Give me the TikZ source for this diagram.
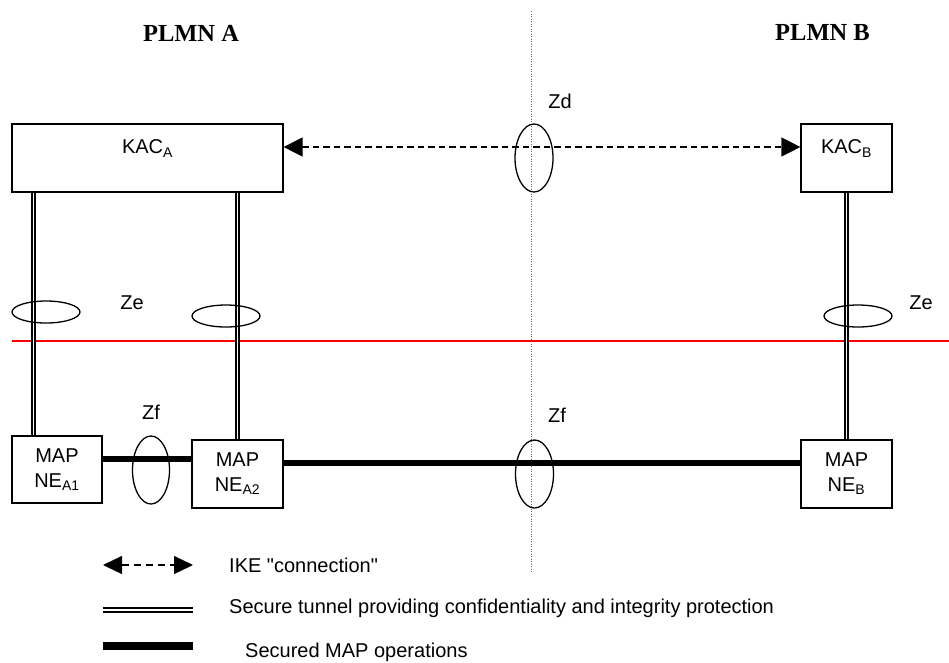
\documentclass[tikz,border=0pt]{standalone}
\usepackage{fontspec}
\setmainfont{Liberation Sans}
\newfontfamily\plmnfont{Liberation Serif}
\usetikzlibrary{arrows.meta}

\begin{document}
\begin{tikzpicture}[x=1pt,y=-1pt,
		font=\fontsize{20}{25}\selectfont,
		box/.style={draw,line width=1.2pt,align=center,inner sep=0pt},
		plmn/.style={font=\plmnfont\fontsize{24.5}{28}\selectfont\bfseries},
		ike/.style={line width=1.2pt,dash pattern=on 6.5pt off 4pt,{Triangle[length=19pt,width=19pt]}-{Triangle[length=19pt,width=19pt]}},
		tunnel/.style={double,line width=1.8pt,double distance=1.7pt},
		mapop/.style={line width=5.5pt},
		ring/.style={line width=1.3pt},
		txt/.style={anchor=west,inner sep=0pt}]
	\useasboundingbox (0,0) rectangle (949,662);

	\node[plmn] (plmna) at (191,33) {PLMN A};
	\node[plmn] (plmnb) at (822.5,33) {PLMN B};

	\draw[gray!80!black,line width=0.9pt,dash pattern=on 0.9pt off 1.6pt] (531,11) -- (531,573);
	\draw[red,line width=1.4pt] (12,341) -- (949,341);

	\node[box,minimum width=271pt,minimum height=68pt] (kaca) at (147.5,158) {KAC\textsubscript{A}\\[-3pt] \mbox{}};
	\node[box,minimum width=91pt,minimum height=68pt] (kacb) at (846.5,158) {KAC\textsubscript{B}\\[-3pt] \mbox{}};
	\node[box,minimum width=90pt,minimum height=67pt] (nea1) at (57,469.5) {MAP\\NE\textsubscript{A1}};
	\node[box,minimum width=91pt,minimum height=68pt] (nea2) at (237.5,474) {MAP\\NE\textsubscript{A2}};
	\node[box,minimum width=91pt,minimum height=68pt] (neb) at (846.5,474) {MAP\\NE\textsubscript{B}};

	\draw[ike] ([yshift=11pt]kaca.east) -- ([yshift=11pt]kacb.west);

	\draw[tunnel] ([xshift=22pt]kaca.south west) -- ([xshift=22pt]nea1.north west);
	\draw[tunnel] (kaca.south -| nea2.north) -- (nea2.north);
	\draw[tunnel] (kacb.south) -- (neb.north);

	\draw[mapop] ([yshift=10.5pt]nea1.east) -- ([yshift=10.5pt]nea1.east -| nea2.west);
	\draw[mapop] ([yshift=11pt]nea2.east) -- ([yshift=11pt]neb.west);

	\draw[ring] (534,158) ellipse (19 and 34);
	\draw[ring] (46,312) ellipse (34 and 11);
	\draw[ring] (226,316) ellipse (34 and 11);
	\draw[ring] (858,316) ellipse (34 and 11);
	\draw[ring] (151,470) ellipse (18.5 and 34);
	\draw[ring] (534.5,474) ellipse (19 and 34);

	\node (zd) at (560,101) {Zd};
	\node (zea) at (132,303) {Ze};
	\node (zeb) at (921,303) {Ze};
	\node (zfa) at (151,412) {Zf};
	\node (zfb) at (557,415) {Zf};

	\coordinate (ikel) at (103,565);
	\coordinate (iker) at (193,565);
	\coordinate (tunl) at (103,610);
	\coordinate (tunr) at (193,610);
	\coordinate (mapl) at (103,646);
	\coordinate (mapr) at (193,646);

	\draw[line width=1.3pt,dash pattern=on 7pt off 5pt,{Triangle[length=19pt,width=18pt]}-{Triangle[length=19pt,width=18pt]}] (ikel) -- (iker);
	\draw[tunnel] (tunl) -- (tunr);
	\draw[line width=8pt] (mapl) -- (mapr);

	\node[txt] (iketxt) at (229,565) {IKE \textquotedbl connection\textquotedbl};
	\node[txt] (tuntxt) at (229,608) {Secure tunnel providing confidentiality and integrity protection};
	\node[txt] (maptxt) at (245,652) {Secured MAP operations};
\end{tikzpicture}
\end{document}
